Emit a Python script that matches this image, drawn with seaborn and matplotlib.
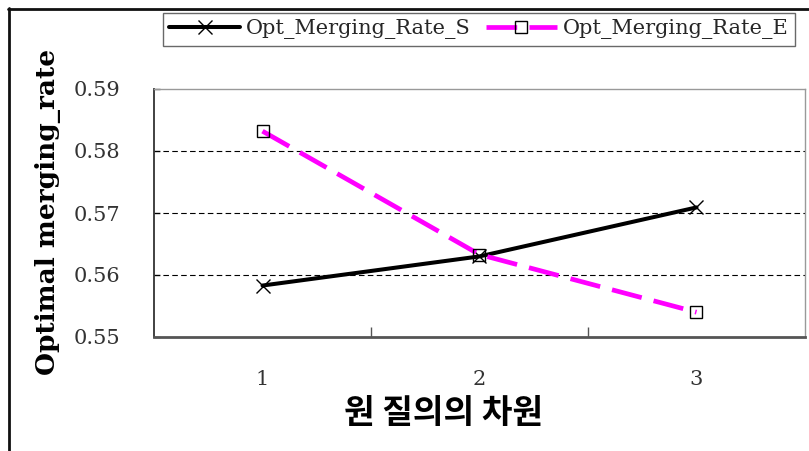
import matplotlib
matplotlib.use("Agg")
import matplotlib.pyplot as plt
from matplotlib.lines import Line2D
from matplotlib.ticker import FixedLocator, NullFormatter
import seaborn as sns
import pandas as pd

# Query dimension categories and the optimal merging rate per method
dimensions = [1, 2, 3]
rate_s = [0.5583, 0.5630, 0.5709]
rate_e = [0.5832, 0.5633, 0.5540]
series_names = ["Opt_Merging_Rate_S", "Opt_Merging_Rate_E"]
y_ticks = [0.55, 0.56, 0.57, 0.58, 0.59]

df_s = pd.DataFrame({"dim": dimensions, "rate": rate_s})
df_e = pd.DataFrame({"dim": dimensions, "rate": rate_e})

sns.set_theme(style="white")
plt.rcParams["font.family"] = ["DejaVu Serif"]

fig = plt.figure(figsize=(8.09, 4.51), dpi=100)
ax = fig.add_axes([154 / 809, 1 - 337 / 451, 651 / 809, 248 / 451])

sns.lineplot(data=df_s, x="dim", y="rate", ax=ax, color="black", lw=2.9,
             marker="x", markersize=10, markeredgewidth=1.0, markeredgecolor="black",
             label=series_names[0], sort=False, zorder=3)
sns.lineplot(data=df_e, x="dim", y="rate", ax=ax, color="#FF00FF", lw=3.4,
             dashes=False, marker="s", markersize=9, markerfacecolor="none",
             markeredgecolor="black", markeredgewidth=1.0,
             label=series_names[1], sort=False, zorder=3)
ax.lines[-1].set_dashes([6.5, 2.6])

ax.set_xlim(0.5, 3.5)
ax.set_ylim(0.55, 0.59)
ax.set_yticks(y_ticks)
ax.set_yticklabels([f"{v:.2f}" for v in y_ticks])
ax.set_xticks(dimensions)
ax.set_xticklabels([str(d) for d in dimensions])
ax.xaxis.set_minor_locator(FixedLocator([1.5, 2.5]))
ax.xaxis.set_minor_formatter(NullFormatter())

ax.tick_params(axis="x", which="major", length=0, pad=24, labelsize=15)
ax.tick_params(axis="x", which="minor", direction="in", length=7, width=1.0,
               color="#555555", bottom=True)
ax.tick_params(axis="y", which="major", direction="in", length=4, width=1.0,
               pad=24, labelsize=15, left=True, color="#444444")
for lbl in ax.get_xticklabels() + ax.get_yticklabels():
    lbl.set_color("#333333")
    lbl.set_fontweight("light")

for v in y_ticks[1:-1]:
    ax.axhline(v, color="black", lw=0.8, ls=(0, (5, 3)), zorder=1)

ax.spines["left"].set_color("#333333")
ax.spines["left"].set_linewidth(1.3)
ax.spines["bottom"].set_color("#555555")
ax.spines["bottom"].set_linewidth(2.0)
for side in ("top", "right"):
    ax.spines[side].set_color("#999999")
    ax.spines[side].set_linewidth(1.0)

ax.set_xlabel("원 질의의 차원", family=["Noto Sans CJK KR"], fontweight="black",
              fontsize=24, color="black", va="center", ha="center")
ax.xaxis.set_label_coords((444 - 154) / 651, (337 - 413) / 248)
ax.set_ylabel("Optimal merging_rate", family=["DejaVu Serif"], fontweight="bold",
              fontsize=19, color="black", va="center", ha="center")
ax.yaxis.set_label_coords((48 - 154) / 651, (337 - 212) / 248)

ax.get_legend().remove()
handles, labels = ax.get_legend_handles_labels()
leg = fig.legend(handles, labels, loc="upper left",
                 bbox_to_anchor=(163 / 809, 1 - 13 / 451), ncol=2,
                 frameon=True, fancybox=False, shadow=False, fontsize=15,
                 handlelength=3.4, handletextpad=0.3, columnspacing=0.7,
                 borderpad=0.3, borderaxespad=0)
leg.get_frame().set_edgecolor("#444444")
leg.get_frame().set_linewidth(1.0)

# Outer frame strokes along the left and top edges of the figure
fig.add_artist(Line2D([9 / 809, 9 / 809], [0, 1 - 8 / 451], transform=fig.transFigure,
                      color="#111111", lw=2.0))
fig.add_artist(Line2D([8 / 809, 1], [1 - 9 / 451, 1 - 9 / 451], transform=fig.transFigure,
                      color="#111111", lw=2.0))

fig.savefig("out.png", dpi=100)
